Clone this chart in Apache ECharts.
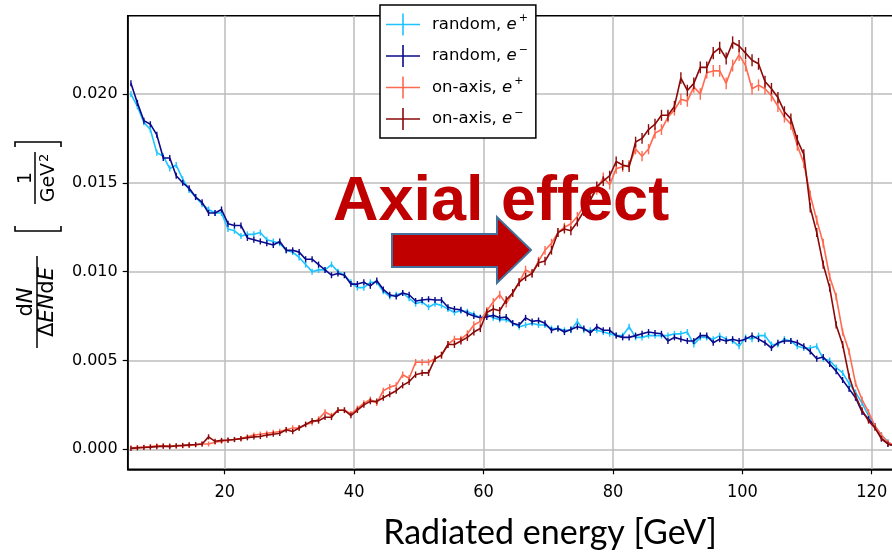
<!DOCTYPE html>
<html><head><meta charset="utf-8">
<script src="https://cdn.jsdelivr.net/npm/echarts@6/dist/echarts.min.js"></script>
<style>html,body{margin:0;padding:0;background:#fff}#c{width:892px;height:554px}</style>
</head><body><div id="c"></div>
<script>
const energy = [5.5,6.5,7.5,8.5,9.5,10.5,11.5,12.5,13.5,14.5,
15.5,16.5,17.5,18.5,19.5,20.5,21.5,22.5,23.5,24.5,
25.5,26.5,27.5,28.5,29.5,30.5,31.5,32.5,33.5,34.5,
35.5,36.5,37.5,38.5,39.5,40.5,41.5,42.5,43.5,44.5,
45.5,46.5,47.5,48.5,49.5,50.5,51.5,52.5,53.5,54.5,
55.5,56.5,57.5,58.5,59.5,60.5,61.5,62.5,63.5,64.5,
65.5,66.5,67.5,68.5,69.5,70.5,71.5,72.5,73.5,74.5,
75.5,76.5,77.5,78.5,79.5,80.5,81.5,82.5,83.5,84.5,
85.5,86.5,87.5,88.5,89.5,90.5,91.5,92.5,93.5,94.5,
95.5,96.5,97.5,98.5,99.5,100.5,101.5,102.5,103.5,104.5,
105.5,106.5,107.5,108.5,109.5,110.5,111.5,112.5,113.5,114.5,
115.5,116.5,117.5,118.5,119.5,120.5,121.5,122.5,123.5];

const randomPos = [0.0200,0.0193,0.0184,0.0180,0.0167,0.0165,0.0158,0.0160,0.0152,0.0146,
0.0142,0.0138,0.0135,0.0133,0.0133,0.0124,0.0123,0.0120,0.0121,0.0121,
0.0122,0.0118,0.0117,0.0116,0.0112,0.0111,0.0108,0.0104,0.0100,0.0101,
0.0101,0.0104,0.0100,0.0098,0.0094,0.0091,0.0091,0.0094,0.0094,0.0089,
0.0086,0.0087,0.0088,0.0085,0.0082,0.0083,0.0080,0.0082,0.0081,0.0079,
0.0077,0.0078,0.00775,0.0076,0.0074,0.0076,0.0074,0.0073,0.0073,0.0071,
0.0069,0.0070,0.0071,0.0070,0.0070,0.0068,0.0068,0.0067,0.0067,0.0072,
0.0067,0.0067,0.0067,0.0066,0.0065,0.0064,0.0064,0.0069,0.0063,0.0063,
0.0064,0.0064,0.0064,0.0064,0.0065,0.0065,0.0066,0.0059,0.0063,0.0063,
0.0062,0.0064,0.0062,0.0061,0.0058,0.0063,0.0062,0.0064,0.0064,0.0059,
0.0059,0.0062,0.0061,0.0058,0.0057,0.0057,0.0058,0.0051,0.0050,0.0046,
0.0043,0.0037,0.0032,0.0026,0.0019,0.0013,0.0008,0.0004,0.0002];

const randomNeg = [0.0206,0.0195,0.0185,0.0183,0.0177,0.0164,0.0164,0.0154,0.0150,0.0147,
0.0142,0.0139,0.0133,0.0133,0.0135,0.0127,0.0126,0.0126,0.0119,0.0118,
0.0117,0.0116,0.0115,0.0117,0.0112,0.0112,0.0111,0.0107,0.0107,0.0104,
0.0101,0.0098,0.0099,0.0098,0.0093,0.0093,0.0094,0.0092,0.0095,0.0090,
0.0087,0.0086,0.0088,0.0087,0.00835,0.0084,0.00845,0.0084,0.0084,0.0080,
0.0079,0.00785,0.00765,0.0075,0.0074,0.00745,0.00755,0.0074,0.00745,0.0071,
0.0070,0.0074,0.0072,0.00725,0.0071,0.0067,0.0068,0.0066,0.00675,0.0069,
0.0068,0.00655,0.0069,0.0067,0.0067,0.0064,0.0063,0.0063,0.0064,0.0065,
0.0066,0.00655,0.0065,0.0061,0.0063,0.0062,0.0061,0.0061,0.0064,0.0064,
0.0060,0.0062,0.0061,0.0062,0.0061,0.0062,0.0064,0.0062,0.0060,0.0057,
0.0060,0.0061,0.0061,0.0060,0.0058,0.0055,0.0051,0.0052,0.0048,0.0044,
0.0039,0.0034,0.0029,0.0021,0.0017,0.0013,0.0006,0.0003,0.0002];

const axisPos = [0.00008,0.0001,0.00012,0.00015,0.0002,0.00018,0.0002,0.00018,0.0002,0.00022,
0.00025,0.0003,0.0003,0.0004,0.00045,0.0005,0.00055,0.0006,0.0007,0.0008,
0.00085,0.0009,0.00095,0.0010,0.0011,0.0012,0.0012,0.0014,0.0015,0.0017,
0.0021,0.0019,0.0022,0.0022,0.0020,0.0023,0.0026,0.0028,0.0026,0.0033,
0.0035,0.0036,0.0042,0.0040,0.0049,0.0049,0.0049,0.0051,0.0053,0.0059,
0.0062,0.0062,0.0065,0.0070,0.0072,0.0078,0.0083,0.0087,0.0082,0.0088,
0.0094,0.0101,0.0099,0.0106,0.0112,0.0116,0.0122,0.0125,0.0127,0.0131,
0.0137,0.0141,0.0146,0.0153,0.0149,0.0158,0.0159,0.0160,0.0169,0.0165,
0.0169,0.0178,0.0180,0.0187,0.0191,0.0197,0.0196,0.0204,0.0200,0.0212,
0.0213,0.0213,0.0206,0.0216,0.0222,0.0216,0.0203,0.0205,0.0203,0.0199,
0.0193,0.0187,0.0183,0.0171,0.0161,0.0143,0.0129,0.0116,0.0097,0.0086,
0.0066,0.0055,0.0037,0.0028,0.0021,0.0013,0.0008,0.0004,0.0002];

const axisNeg = [0.00005,0.00008,0.0001,0.00012,0.00015,0.00018,0.00015,0.0002,0.00022,0.00025,
0.00027,0.0003,0.0007,0.00045,0.0005,0.00052,0.00055,0.0006,0.00065,0.0007,
0.00072,0.0008,0.00085,0.0009,0.0011,0.0010,0.0012,0.0014,0.0016,0.0016,
0.0018,0.0018,0.0022,0.0022,0.0019,0.0022,0.0025,0.0027,0.0027,0.0029,
0.0031,0.0033,0.0036,0.0038,0.0042,0.0043,0.0043,0.0051,0.0053,0.0059,
0.0059,0.0061,0.0063,0.0066,0.0068,0.0077,0.0079,0.0078,0.0084,0.0088,
0.0094,0.0097,0.0099,0.0105,0.0106,0.0112,0.0122,0.0124,0.0123,0.0128,
0.0134,0.0140,0.0148,0.0151,0.0154,0.0162,0.0160,0.0159,0.0173,0.0175,
0.0180,0.0183,0.0188,0.0188,0.0193,0.0209,0.0202,0.0206,0.0215,0.0215,
0.0223,0.0226,0.0220,0.0229,0.0227,0.0223,0.0219,0.0217,0.0207,0.0203,
0.0198,0.0190,0.0186,0.0174,0.0166,0.0136,0.0122,0.0104,0.0091,0.0070,
0.0059,0.0041,0.0030,0.0022,0.0016,0.0012,0.0006,0.0003,0.0002];

const seriesNames = ['random, e+', 'random, e-', 'on-axis, e+', 'on-axis, e-'];
const xTicks = [20, 40, 60, 80, 100, 120];
const yTicks = [0, 0.005, 0.010, 0.015, 0.020];

const colors = ['#1ec3ff', '#0a0a8c', '#ff6a50', '#8b0a0a'];
const BAR = 'path://M0,0h1v10h-1z';
const ICON = 'path://M0,10.2h34v1.6h-34z M16.2,0h1.6v22h-1.6z';

function mk(i, vals, errScale, errBase) {
  return {
    name: seriesNames[i], type: 'line',
    data: energy.map((e, k) => [e, vals[k]]),
    color: colors[i],
    lineStyle: { width: 1.6, color: colors[i] },
    itemStyle: { color: colors[i] },
    symbol: BAR, symbolKeepAspect: false,
    symbolSize: (v) => [1.4, errBase + v[1] * errScale],
    showSymbol: true, showAllSymbol: true,
    animation: false, z: 2 + i
  };
}

const chart = echarts.init(document.getElementById('c'), null, { renderer: 'canvas' });
const richLegend = {
  t: { fontFamily: 'DejaVu Sans', fontSize: 16.5, color: '#000' },
  i: { fontFamily: 'DejaVu Sans', fontSize: 16.5, fontStyle: 'italic', color: '#000' },
  s: { fontFamily: 'DejaVu Sans', fontSize: 11, color: '#000', padding: [0, 0, 12, 2] }
};
chart.setOption({
  animation: false,
  backgroundColor: '#fff',
  grid: { left: 127.7, top: 15.7, right: -2, bottom: 84.7, show: true, borderColor: '#000', borderWidth: 1.5,
    backgroundColor: 'transparent', containLabel: false, outerBoundsMode: 'none' },
  xAxis: {
    type: 'value', min: 5, max: 123.44, minInterval: 20, maxInterval: 20,
    axisLine: { show: true, onZero: false, lineStyle: { color: '#000', width: 1.5 } },
    axisTick: { show: true, inside: false, length: 5, customValues: xTicks, lineStyle: { color: '#000', width: 1.2 } },
    axisLabel: { customValues: xTicks, margin: 14, fontFamily: 'DejaVu Sans Condensed', fontSize: 18, color: '#000' },
    splitLine: { show: true, lineStyle: { color: '#bdbdbd', width: 1.5 } }
  },
  yAxis: {
    type: 'value', min: -0.001126, max: 0.024408, minInterval: 0.005, maxInterval: 0.005,
    axisLine: { show: true, onZero: false, lineStyle: { color: '#000', width: 1.5 } },
    axisTick: { show: true, inside: false, length: 5, customValues: yTicks, lineStyle: { color: '#000', width: 1.2 } },
    axisLabel: { customValues: yTicks, margin: 10, fontFamily: 'DejaVu Sans', fontSize: 16, color: '#000',
      formatter: (v) => v.toFixed(3) },
    splitLine: { show: true, lineStyle: { color: '#bdbdbd', width: 1.5 } }
  },
  legend: {
    orient: 'vertical', left: 380, top: 5,
    backgroundColor: '#fff', borderColor: '#000', borderWidth: 1.5, borderRadius: 0,
    padding: [8, 8, 8, 6], itemGap: 9, itemWidth: 34, itemHeight: 22,
    data: seriesNames.map((n, i) => ({ name: n, icon: ICON, itemStyle: { color: colors[i] } })),
    textStyle: { rich: richLegend, padding: [0, 0, 0, 7] },
    formatter: (name) => {
      const parts = name.split(', ');
      const sign = parts[1] === 'e+' ? '+' : '\u2212';
      return '{t|' + parts[0] + ', }{i|e}{s|' + sign + '}';
    },
    z: 20
  },
  series: [
    mk(0, randomPos, 0, 6),
    mk(1, randomNeg, 0, 6),
    mk(2, axisPos, 320, 5),
    mk(3, axisNeg, 320, 5)
  ],
  graphic: [
    {
      type: 'group', x: 37, y: 302, rotation: Math.PI / 2, silent: true,
      children: [
        { type: 'line', shape: { x1: -46, y1: 0, x2: 46, y2: 0 }, style: { stroke: '#000', lineWidth: 1.5 } },
        { type: 'text', x: 0, y: -10, style: { text: '{r|d}{i|N}', align: 'center', verticalAlign: 'middle',
            rich: { r: { fontFamily: 'DejaVu Sans', fontSize: 21 }, i: { fontFamily: 'DejaVu Sans', fontSize: 21, fontStyle: 'italic' } } } },
        { type: 'text', x: 0, y: 11, style: { text: '{r|\u0394}{i|EN}{r|d}{i|E}', align: 'center', verticalAlign: 'middle',
            rich: { r: { fontFamily: 'DejaVu Sans', fontSize: 21 }, i: { fontFamily: 'DejaVu Sans', fontSize: 21, fontStyle: 'italic' } } } },
        { type: 'polyline', shape: { points: [[76, -22], [71, -22], [71, 24], [76, 24]] }, style: { stroke: '#000', lineWidth: 1.6, fill: null } },
        { type: 'polyline', shape: { points: [[155, -22], [160, -22], [160, 24], [155, 24]] }, style: { stroke: '#000', lineWidth: 1.6, fill: null } },
        { type: 'line', shape: { x1: 98, y1: -2, x2: 150, y2: -2 }, style: { stroke: '#000', lineWidth: 1.5 } },
        { type: 'text', x: 124, y: -11, style: { text: '1', align: 'center', verticalAlign: 'middle', fontFamily: 'DejaVu Sans', fontSize: 19 } },
        { type: 'text', x: 124, y: 12, style: { text: 'GeV{s|2}', align: 'center', verticalAlign: 'middle', fontFamily: 'DejaVu Sans', fontSize: 19,
            rich: { s: { fontFamily: 'DejaVu Sans', fontSize: 13, padding: [0, 0, 8, 1] } } } }
      ]
    },
    {
      type: 'text', x: 550, y: 533, silent: true,
      style: { text: 'Radiated energy [GeV]', fontFamily: 'Lato', fontSize: 34, fill: '#000', align: 'center', verticalAlign: 'middle' }
    },
    {
      type: 'polygon', silent: true, z: 30,
      shape: { points: [[392, 234], [497, 234], [497, 217], [531, 250], [497, 283], [497, 267], [392, 267]] },
      style: { fill: '#c00000', stroke: '#41719c', lineWidth: 2 }
    },
    {
      type: 'text', x: 333, y: 203, silent: true, z: 30,
      style: { text: 'Axial effect', fontFamily: 'Liberation Sans', fontWeight: 'bold', fontSize: 63, fill: '#c00000', align: 'left', verticalAlign: 'middle' }
    }
  ]
});
</script>
</body></html>
